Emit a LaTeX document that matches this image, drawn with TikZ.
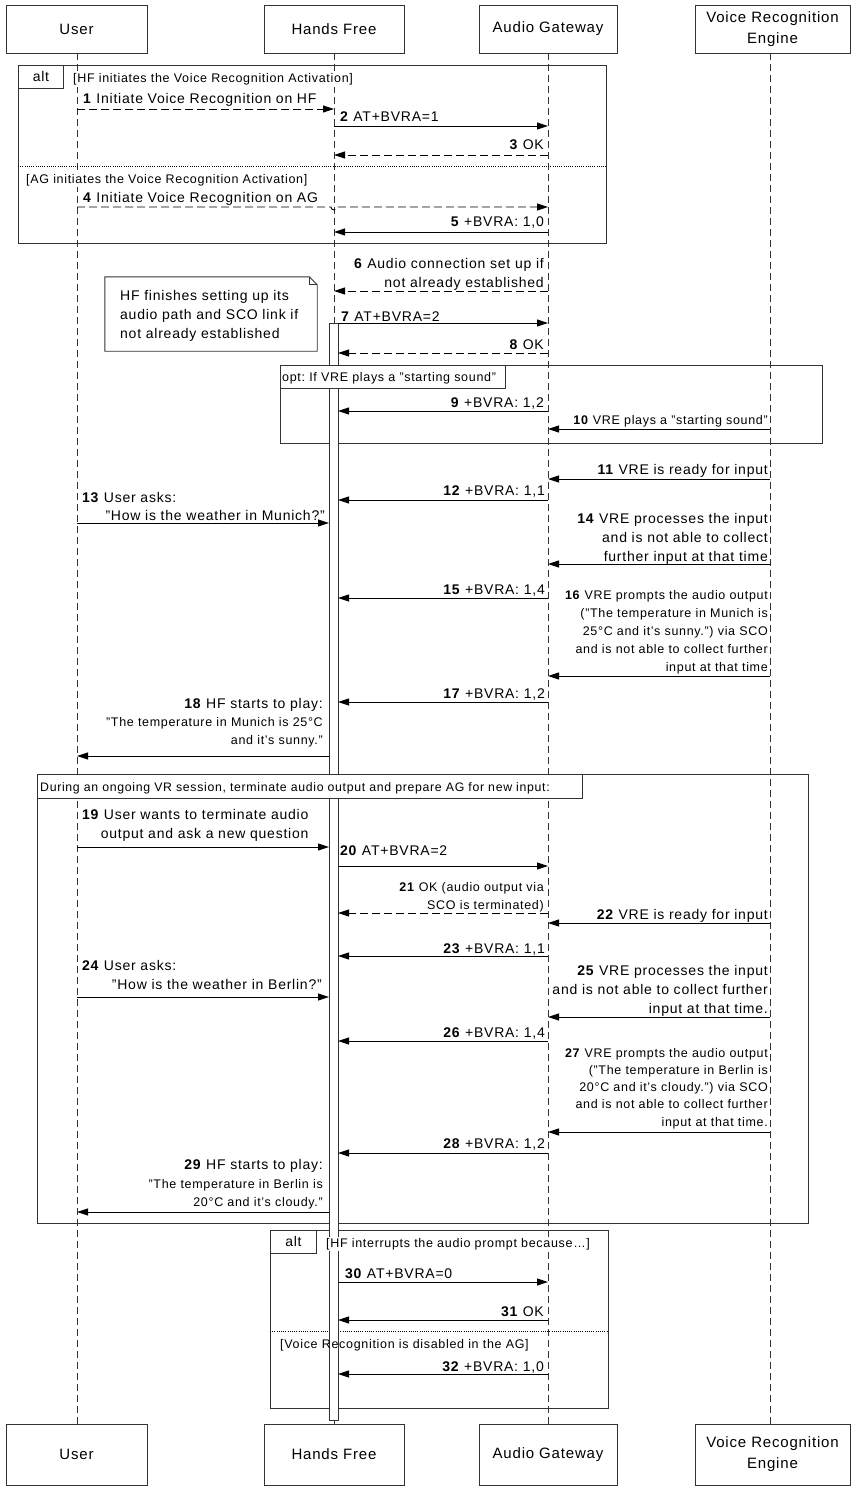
\documentclass[tikz,border=0pt]{standalone}
\usepackage{fontspec}
\setmainfont{Liberation Sans}[LetterSpace=5.5]
\usetikzlibrary{arrows.meta}
\begin{document}
\frenchspacing
\begin{tikzpicture}[x=1pt,y=-1pt,
  lbl/.style={inner sep=0pt, font=\fontsize{14}{19}\selectfont},
  sml/.style={inner sep=0pt, font=\fontsize{12.5}{18}\selectfont},
  msg/.style={line width=0.9pt, -{Triangle[length=11pt,width=7pt]}},
  rep/.style={msg, dash pattern=on 8pt off 4pt},
  life/.style={line width=0.8pt, dash pattern=on 7pt off 4pt, black!80},
  frame/.style={draw=black!80, line width=0.9pt},
  sep/.style={line width=0.8pt, dash pattern=on 1pt off 1.2pt},
  actor/.style={draw=black!80, line width=0.9pt, inner sep=0pt, align=center,
                font=\fontsize{15}{21}\selectfont},
  tab/.style={draw=black!80, line width=0.9pt, fill=white, inner sep=0pt, anchor=north west},
  guard/.style={sml, fill=white, inner sep=1pt, anchor=base west}
]
\useasboundingbox (0,0) rectangle (855,1490);
% lifeline positions
\coordinate (U) at (77,0);
\coordinate (H) at (334,0);
\coordinate (A) at (548,0);
\coordinate (V) at (770,0);
\coordinate (HL) at (329,0);
\coordinate (HR) at (338,0);
% actors
\node[actor, minimum width=141pt, minimum height=48pt] (ut) at (76.5,29) {User};
\node[actor, minimum width=140pt, minimum height=48pt] (ht) at (334,29) {Hands Free};
\node[actor, minimum width=138pt, minimum height=48pt] (at) at (548,29) {Audio Gateway};
\node[actor, minimum width=155pt, minimum height=48pt] (vt) at (772.5,29) {Voice Recognition\\Engine};
\node[actor, minimum width=141pt, minimum height=61pt] (ub) at (76.5,1454.5) {User};
\node[actor, minimum width=140pt, minimum height=61pt] (hb) at (334,1454.5) {Hands Free};
\node[actor, minimum width=138pt, minimum height=61pt] (ab) at (548,1454.5) {Audio Gateway};
\node[actor, minimum width=155pt, minimum height=61pt] (vb) at (772.5,1454.5) {Voice Recognition\\Engine};
% lifelines
\draw[life] (U |- ut.south) -- (U |- ub.north);
\draw[life] (H |- ht.south) -- (H |- hb.north);
\draw[life] (A |- at.south) -- (A |- ab.north);
\draw[life] (V |- vt.south) -- (V |- vb.north);
% frames
\draw[frame] (18,65) rectangle (606,243);
\draw[sep] (18,166) -- (606,166);
\draw[frame] (280,365) rectangle (822,443);
\draw[frame] (37,774) rectangle (808,1223);
\draw[frame] (270,1230) rectangle (608,1408);
\draw[sep] (270,1331) -- (608,1331);
% activation bar
\draw[line width=0.9pt, draw=black!80, fill=white] (329,323) rectangle (338,1420);
% frame labels
\node[tab, minimum width=45pt, minimum height=23pt, font=\fontsize{14}{19}\selectfont] (alt1) at (18,65) {alt};
\node[guard] (g1) at (72,83) {[HF initiates the Voice Recognition Activation]};
\node[guard] (g2) at (25,183) {[AG initiates the Voice Recognition Activation]};
\node[tab, minimum width=225pt, minimum height=23pt] (opt) at (280,365) {};
\node[sml, anchor=base west] (optl) at (282,381) {opt: If VRE plays a "starting sound"};
\node[tab, minimum width=545pt, minimum height=24pt] (during) at (37,774) {};
\node[sml, anchor=base west, font=\fontsize{12.3}{18}\selectfont] (duringl) at (40,791) {During an ongoing VR session, terminate audio output and prepare AG for new input:};
\node[tab, minimum width=46pt, minimum height=23pt, font=\fontsize{14}{19}\selectfont] (alt2) at (270,1230) {alt};
\node[guard] (g3) at (325,1247) {[HF interrupts the audio prompt because…]};
\node[sml, anchor=base west] (g4) at (280,1348) {[Voice Recognition is disabled in the AG]};
% note
\node[minimum width=212pt, minimum height=74pt, inner sep=0pt] (note) at (211,314) {};
\draw[frame] (note.north west) -- ([xshift=-8pt]note.north east) -- ([yshift=-8pt]note.north east) -- (note.south east) -- (note.south west) -- cycle;
\draw[frame] ([xshift=-8pt]note.north east) -- ([xshift=-8pt,yshift=-8pt]note.north east) -- ([yshift=-8pt]note.north east);
\node[lbl, align=left, anchor=base west] (notetxt) at (120,338) {HF finishes setting up its\\audio path and SCO link if\\not already established};
% hop coordinate
\coordinate (hop) at (331,207);
% messages
\draw[rep] (U |- 0,109) -- (H |- 0,109);
\node[lbl, anchor=base west] (m1) at (83,104) {\textbf{1} Initiate Voice Recognition on HF};
\draw[msg] (H |- 0,126) -- (A |- 0,126);
\node[lbl, anchor=base west] (m2) at (340,122) {\textbf{2} AT+BVRA=1};
\draw[rep] (A |- 0,155) -- (H |- 0,155);
\node[lbl, anchor=base east] (m3) at (544,150) {\textbf{3} OK};
\draw[rep] (U |- 0,207) -- (hop) arc[start angle=180, end angle=0, radius=3] -- (A |- 0,207);
\node[lbl, anchor=base west] (m4) at (83,203) {\textbf{4} Initiate Voice Recognition on AG};
\draw[msg] (A |- 0,232) -- (H |- 0,232);
\node[lbl, anchor=base east] (m5) at (544,226) {\textbf{5} +BVRA: 1,0};
\draw[rep] (A |- 0,291) -- (H |- 0,291);
\node[lbl, anchor=base east, align=right] (m6) at (544,287) {\textbf{6} Audio connection set up if\\not already established};
\draw[msg] (HR |- 0,323) -- (A |- 0,323);
\node[lbl, anchor=base west] (m7) at (341,321) {\textbf{7} AT+BVRA=2};
\draw[rep] (A |- 0,353) -- (HR |- 0,353);
\node[lbl, anchor=base east] (m8) at (544,349) {\textbf{8} OK};
\draw[msg] (A |- 0,411) -- (HR |- 0,411);
\node[lbl, anchor=base east] (m9) at (544,407) {\textbf{9} +BVRA: 1,2};
\draw[msg] (V |- 0,429) -- (A |- 0,429);
\node[sml, anchor=base east] (m10) at (768,424) {\textbf{10} VRE plays a "starting sound"};
\draw[msg] (V |- 0,479) -- (A |- 0,479);
\node[lbl, anchor=base east] (m11) at (768,474) {\textbf{11} VRE is ready for input};
\draw[msg] (A |- 0,500) -- (HR |- 0,500);
\node[lbl, anchor=base east] (m12) at (545,495) {\textbf{12} +BVRA: 1,1};
\draw[msg] (U |- 0,523) -- (HL |- 0,523);
\node[lbl, anchor=base west] (m13a) at (82,502) {\textbf{13} User asks:};
\node[lbl, anchor=base east] (m13b) at (325,520) {"How is the weather in Munich?"};
\draw[msg] (V |- 0,564) -- (A |- 0,564);
\node[lbl, anchor=base east, align=right] (m14) at (768,561) {\textbf{14} VRE processes the input\\and is not able to collect\\further input at that time};
\draw[msg] (A |- 0,598) -- (HR |- 0,598);
\node[lbl, anchor=base east] (m15) at (545,594) {\textbf{15} +BVRA: 1,4};
\draw[msg] (V |- 0,676) -- (A |- 0,676);
\node[sml, anchor=base east, align=right] (m16) at (768,671) {\textbf{16} VRE prompts the audio output\\("The temperature in Munich is\\25°C and it’s sunny.") via SCO\\and is not able to collect further\\input at that time};
\draw[msg] (A |- 0,702) -- (HR |- 0,702);
\node[lbl, anchor=base east] (m17) at (545,698) {\textbf{17} +BVRA: 1,2};
\draw[msg] (HL |- 0,756) -- (U |- 0,756);
\node[lbl, anchor=base east] (m18a) at (323,708) {\textbf{18} HF starts to play:};
\node[sml, anchor=base east, align=right] (m18b) at (323,744) {"The temperature in Munich is 25°C\\and it’s sunny."};
\draw[msg] (U |- 0,847) -- (HL |- 0,847);
\node[lbl, anchor=base west, align=right] (m19) at (82,838) {\textbf{19} User wants to terminate audio\\output and ask a new question};
\draw[msg] (HR |- 0,866) -- (A |- 0,866);
\node[lbl, anchor=base west] (m20) at (340,855) {\textbf{20} AT+BVRA=2};
\draw[rep] (A |- 0,913) -- (HR |- 0,913);
\node[sml, anchor=base east, align=right] (m21) at (544,909) {\textbf{21} OK (audio output via\\SCO is terminated)};
\draw[msg] (V |- 0,923) -- (A |- 0,923);
\node[lbl, anchor=base east] (m22) at (768,919) {\textbf{22} VRE is ready for input};
\draw[msg] (A |- 0,956) -- (HR |- 0,956);
\node[lbl, anchor=base east] (m23) at (545,953) {\textbf{23} +BVRA: 1,1};
\draw[msg] (U |- 0,997) -- (HL |- 0,997);
\node[lbl, anchor=base west] (m24a) at (82,970) {\textbf{24} User asks:};
\node[lbl, anchor=base east] (m24b) at (322,989) {"How is the weather in Berlin?"};
\draw[msg] (V |- 0,1017) -- (A |- 0,1017);
\node[lbl, anchor=base east, align=right] (m25) at (768,1013) {\textbf{25} VRE processes the input\\and is not able to collect further\\input at that time.};
\draw[msg] (A |- 0,1041) -- (HR |- 0,1041);
\node[lbl, anchor=base east] (m26) at (545,1037) {\textbf{26} +BVRA: 1,4};
\draw[msg] (V |- 0,1132) -- (A |- 0,1132);
\node[sml, anchor=base east, align=right, font=\fontsize{12.5}{17.25}\selectfont] (m27) at (768,1126) {\textbf{27} VRE prompts the audio output\\("The temperature in Berlin is\\20°C and it’s cloudy.") via SCO\\and is not able to collect further\\input at that time.};
\draw[msg] (A |- 0,1153) -- (HR |- 0,1153);
\node[lbl, anchor=base east] (m28) at (545,1148) {\textbf{28} +BVRA: 1,2};
\draw[msg] (HL |- 0,1212) -- (U |- 0,1212);
\node[lbl, anchor=base east] (m29a) at (323,1169) {\textbf{29} HF starts to play:};
\node[sml, anchor=base east, align=right] (m29b) at (323,1206) {"The temperature in Berlin is\\20°C and it’s cloudy."};
\draw[msg] (HR |- 0,1282) -- (A |- 0,1282);
\node[lbl, anchor=base west] (m30) at (345,1278) {\textbf{30} AT+BVRA=0};
\draw[msg] (A |- 0,1320) -- (HR |- 0,1320);
\node[lbl, anchor=base east] (m31) at (544,1316) {\textbf{31} OK};
\draw[msg] (A |- 0,1374) -- (HR |- 0,1374);
\node[lbl, anchor=base east] (m32) at (544,1371) {\textbf{32} +BVRA: 1,0};
\end{tikzpicture}
\end{document}
